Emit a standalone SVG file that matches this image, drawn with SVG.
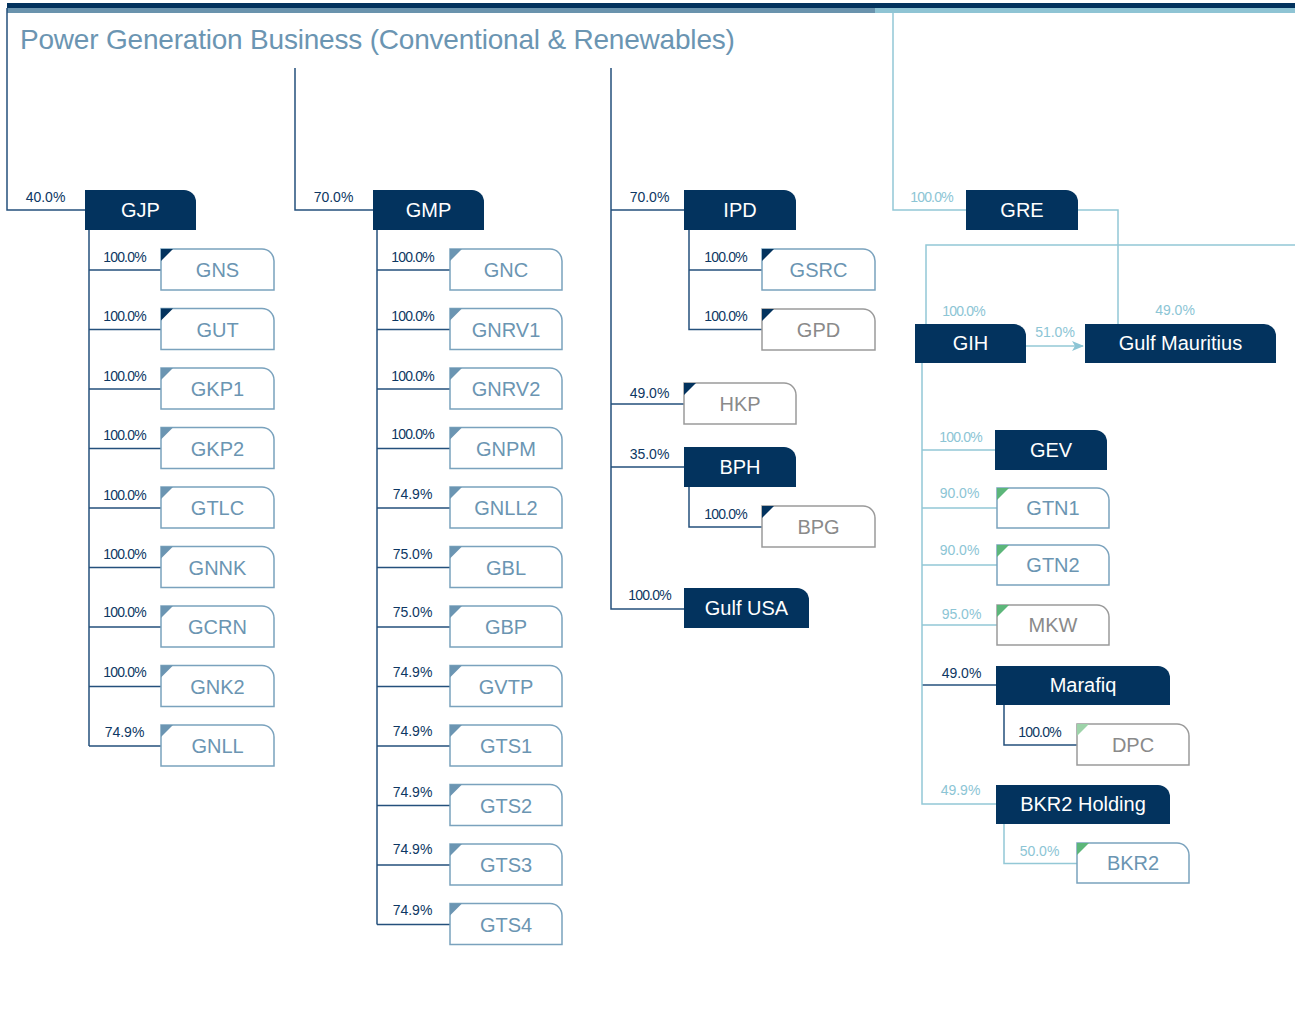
<svg xmlns="http://www.w3.org/2000/svg" width="1295" height="1026" viewBox="0 0 1295 1026">
<defs>
<style>
text{font-family:"Liberation Sans",Arial,sans-serif}
.title{font-size:28px;fill:#6b95b2;letter-spacing:-0.2px}
.pd{font-size:14px;fill:#0d3763;text-anchor:middle}
.pt{font-size:14px;fill:#8cc5d5;text-anchor:middle}
.h{letter-spacing:-0.8px}
.nd{fill:#03335e}
.nl{fill:#fff;stroke:#7aa2bd;stroke-width:1.5}
.ng{fill:#fff;stroke:#9a9a9a;stroke-width:1.5}
.td{font-size:20px;fill:#fff;text-anchor:middle}
.tl{font-size:20px;fill:#6b95b2;text-anchor:middle}
.tg{font-size:20px;fill:#8a8a8a;text-anchor:middle}
.cd{fill:none;stroke:#24507c;stroke-width:1.5}
.ct{fill:none;stroke:#93c8d6;stroke-width:1.5}
.trn{fill:#03335e}
.trs{fill:#6b95b2}
.trg{fill:#5cb67a}
.trl{fill:#9dd3a9}
</style>
<marker id="arr" viewBox="0 0 12 10" refX="11" refY="5" markerWidth="12" markerHeight="10" markerUnits="userSpaceOnUse" orient="auto">
<path d="M0,0 L12,5 L0,10 L3,5 Z" fill="#8cc5d5"/>
</marker>
</defs>
<rect width="1295" height="1026" fill="#fff"/>
<g id="header">
<rect x="7" y="3" width="1288" height="5" fill="#03335e"/>
<rect x="7" y="8" width="868" height="5" fill="#6a93ad"/>
<rect x="875" y="8" width="420" height="5" fill="#8fc4d4"/>
<text class="title" x="20" y="49">Power Generation Business (Conventional &amp; Renewables)</text>
</g>
<g id="connectors">
<path class="cd" d="M7,8 V210 H85"/>
<path class="cd" d="M295,68 V210 H373"/>
<path class="cd" d="M611,68 V609 H684 M611,210 H684 M611,404 H684 M611,467 H684"/>
<path class="cd" d="M89,230 V746 M89,270 H161 M89,329.5 H161 M89,389 H161 M89,448.5 H161 M89,508 H161 M89,567.5 H161 M89,627 H161 M89,686.5 H161 M89,746 H161"/>
<path class="cd" d="M377,230 V924.5 M377,270 H450 M377,329.5 H450 M377,389 H450 M377,448.5 H450 M377,508 H450 M377,567.5 H450 M377,627 H450 M377,686.5 H450 M377,746 H450 M377,805.5 H450 M377,865 H450 M377,924.5 H450"/>
<path class="cd" d="M689,230 V329.5 H762 M689,270 H762"/>
<path class="cd" d="M689,487 V527 H762"/>
<path class="cd" d="M922,685 H996"/>
<path class="cd" d="M1004,705 V745 H1077"/>
<path class="ct" d="M893,13 V210 H966"/>
<path class="ct" d="M1078,210 H1118 V324"/>
<path class="ct" d="M926,324 V245 H1295"/>
<path class="ct" d="M922,363 V804 H996 M922,450 H995 M922,508 H997 M922,565 H997 M922,625 H997"/>
<path class="ct" d="M1004,824 V863.5 H1077"/>
<path class="ct" d="M1026,346 H1083" marker-end="url(#arr)"/>
</g>
<g id="labels" transform="translate(0,1.5)">
<text class="pd" x="45.5" y="200">40.0%</text>
<text class="pd" x="333.5" y="200">70.0%</text>
<text class="pd" x="649.5" y="200">70.0%</text>
<text class="pt h" x="931.5" y="200">100.0%</text>
<text class="pd h" x="124.5" y="260">100.0%</text>
<text class="pd h" x="124.5" y="319.5">100.0%</text>
<text class="pd h" x="124.5" y="379">100.0%</text>
<text class="pd h" x="124.5" y="438.5">100.0%</text>
<text class="pd h" x="124.5" y="498">100.0%</text>
<text class="pd h" x="124.5" y="557.5">100.0%</text>
<text class="pd h" x="124.5" y="615">100.0%</text>
<text class="pd h" x="124.5" y="675">100.0%</text>
<text class="pd" x="124.5" y="735">74.9%</text>
<text class="pd h" x="412.5" y="260">100.0%</text>
<text class="pd h" x="412.5" y="319.5">100.0%</text>
<text class="pd h" x="412.5" y="379">100.0%</text>
<text class="pd h" x="412.5" y="437">100.0%</text>
<text class="pd" x="412.5" y="497">74.9%</text>
<text class="pd" x="412.5" y="557">75.0%</text>
<text class="pd" x="412.5" y="615">75.0%</text>
<text class="pd" x="412.5" y="675">74.9%</text>
<text class="pd" x="412.5" y="734">74.9%</text>
<text class="pd" x="412.5" y="795">74.9%</text>
<text class="pd" x="412.5" y="852">74.9%</text>
<text class="pd" x="412.5" y="913">74.9%</text>
<text class="pd h" x="725.5" y="260">100.0%</text>
<text class="pd h" x="725.5" y="319">100.0%</text>
<text class="pd" x="649.5" y="396">49.0%</text>
<text class="pd" x="649.5" y="457">35.0%</text>
<text class="pd h" x="725.5" y="517">100.0%</text>
<text class="pd h" x="649.5" y="598">100.0%</text>
<text class="pt h" x="963.5" y="314">100.0%</text>
<text class="pt" x="1055" y="335">51.0%</text>
<text class="pt" x="1175" y="313">49.0%</text>
<text class="pt h" x="960.5" y="440">100.0%</text>
<text class="pt" x="959.5" y="496">90.0%</text>
<text class="pt" x="959.5" y="553">90.0%</text>
<text class="pt" x="961.5" y="617">95.0%</text>
<text class="pd" x="961.5" y="676">49.0%</text>
<text class="pd h" x="1039.5" y="735">100.0%</text>
<text class="pt" x="960.5" y="793">49.9%</text>
<text class="pt" x="1039.5" y="854">50.0%</text>
</g>
<g id="GJP"><path class="nd" d="M85,190 H184 A12,12 0 0 1 196,202 V230 H85 Z"/><text class="td" x="140.5" y="217">GJP</text></g>
<g id="GMP"><path class="nd" d="M373,190 H472 A12,12 0 0 1 484,202 V230 H373 Z"/><text class="td" x="428.5" y="217">GMP</text></g>
<g id="IPD"><path class="nd" d="M684,190 H784 A12,12 0 0 1 796,202 V230 H684 Z"/><text class="td" x="740" y="217">IPD</text></g>
<g id="GRE"><path class="nd" d="M966,190 H1066 A12,12 0 0 1 1078,202 V230 H966 Z"/><text class="td" x="1022" y="217">GRE</text></g>
<g id="GNS"><path class="nl" d="M161,249 H262 A12,12 0 0 1 274,261 V290 H161 Z"/><path class="trn" d="M161,249 H173 L161,261 Z"/><text class="tl" x="217.5" y="277">GNS</text></g>
<g id="GUT"><path class="nl" d="M161,308.5 H262 A12,12 0 0 1 274,320.5 V349.5 H161 Z"/><path class="trn" d="M161,308.5 H173 L161,320.5 Z"/><text class="tl" x="217.5" y="336.5">GUT</text></g>
<g id="GKP1"><path class="nl" d="M161,368 H262 A12,12 0 0 1 274,380 V409 H161 Z"/><path class="trs" d="M161,368 H173 L161,380 Z"/><text class="tl" x="217.5" y="396">GKP1</text></g>
<g id="GKP2"><path class="nl" d="M161,427.5 H262 A12,12 0 0 1 274,439.5 V468.5 H161 Z"/><path class="trs" d="M161,427.5 H173 L161,439.5 Z"/><text class="tl" x="217.5" y="455.5">GKP2</text></g>
<g id="GTLC"><path class="nl" d="M161,487 H262 A12,12 0 0 1 274,499 V528 H161 Z"/><path class="trs" d="M161,487 H173 L161,499 Z"/><text class="tl" x="217.5" y="515">GTLC</text></g>
<g id="GNNK"><path class="nl" d="M161,546.5 H262 A12,12 0 0 1 274,558.5 V587.5 H161 Z"/><path class="trs" d="M161,546.5 H173 L161,558.5 Z"/><text class="tl" x="217.5" y="574.5">GNNK</text></g>
<g id="GCRN"><path class="nl" d="M161,606 H262 A12,12 0 0 1 274,618 V647 H161 Z"/><path class="trs" d="M161,606 H173 L161,618 Z"/><text class="tl" x="217.5" y="634">GCRN</text></g>
<g id="GNK2"><path class="nl" d="M161,665.5 H262 A12,12 0 0 1 274,677.5 V706.5 H161 Z"/><path class="trs" d="M161,665.5 H173 L161,677.5 Z"/><text class="tl" x="217.5" y="693.5">GNK2</text></g>
<g id="GNLL"><path class="nl" d="M161,725 H262 A12,12 0 0 1 274,737 V766 H161 Z"/><path class="trs" d="M161,725 H173 L161,737 Z"/><text class="tl" x="217.5" y="753">GNLL</text></g>
<g id="GNC"><path class="nl" d="M450,249 H550 A12,12 0 0 1 562,261 V290 H450 Z"/><path class="trs" d="M450,249 H462 L450,261 Z"/><text class="tl" x="506" y="277">GNC</text></g>
<g id="GNRV1"><path class="nl" d="M450,308.5 H550 A12,12 0 0 1 562,320.5 V349.5 H450 Z"/><path class="trs" d="M450,308.5 H462 L450,320.5 Z"/><text class="tl" x="506" y="336.5">GNRV1</text></g>
<g id="GNRV2"><path class="nl" d="M450,368 H550 A12,12 0 0 1 562,380 V409 H450 Z"/><path class="trs" d="M450,368 H462 L450,380 Z"/><text class="tl" x="506" y="396">GNRV2</text></g>
<g id="GNPM"><path class="nl" d="M450,427.5 H550 A12,12 0 0 1 562,439.5 V468.5 H450 Z"/><path class="trs" d="M450,427.5 H462 L450,439.5 Z"/><text class="tl" x="506" y="455.5">GNPM</text></g>
<g id="GNLL2"><path class="nl" d="M450,487 H550 A12,12 0 0 1 562,499 V528 H450 Z"/><path class="trs" d="M450,487 H462 L450,499 Z"/><text class="tl" x="506" y="515">GNLL2</text></g>
<g id="GBL"><path class="nl" d="M450,546.5 H550 A12,12 0 0 1 562,558.5 V587.5 H450 Z"/><path class="trs" d="M450,546.5 H462 L450,558.5 Z"/><text class="tl" x="506" y="574.5">GBL</text></g>
<g id="GBP"><path class="nl" d="M450,606 H550 A12,12 0 0 1 562,618 V647 H450 Z"/><path class="trs" d="M450,606 H462 L450,618 Z"/><text class="tl" x="506" y="634">GBP</text></g>
<g id="GVTP"><path class="nl" d="M450,665.5 H550 A12,12 0 0 1 562,677.5 V706.5 H450 Z"/><path class="trs" d="M450,665.5 H462 L450,677.5 Z"/><text class="tl" x="506" y="693.5">GVTP</text></g>
<g id="GTS1"><path class="nl" d="M450,725 H550 A12,12 0 0 1 562,737 V766 H450 Z"/><path class="trs" d="M450,725 H462 L450,737 Z"/><text class="tl" x="506" y="753">GTS1</text></g>
<g id="GTS2"><path class="nl" d="M450,784.5 H550 A12,12 0 0 1 562,796.5 V825.5 H450 Z"/><path class="trs" d="M450,784.5 H462 L450,796.5 Z"/><text class="tl" x="506" y="812.5">GTS2</text></g>
<g id="GTS3"><path class="nl" d="M450,844 H550 A12,12 0 0 1 562,856 V885 H450 Z"/><path class="trs" d="M450,844 H462 L450,856 Z"/><text class="tl" x="506" y="872">GTS3</text></g>
<g id="GTS4"><path class="nl" d="M450,903.5 H550 A12,12 0 0 1 562,915.5 V944.5 H450 Z"/><path class="trs" d="M450,903.5 H462 L450,915.5 Z"/><text class="tl" x="506" y="931.5">GTS4</text></g>
<g id="GSRC"><path class="nl" d="M762,249 H863 A12,12 0 0 1 875,261 V290 H762 Z"/><path class="trn" d="M762,249 H774 L762,261 Z"/><text class="tl" x="818.5" y="277">GSRC</text></g>
<g id="GPD"><path class="ng" d="M762,309 H863 A12,12 0 0 1 875,321 V350 H762 Z"/><path class="trn" d="M762,309 H774 L762,321 Z"/><text class="tg" x="818.5" y="337">GPD</text></g>
<g id="HKP"><path class="ng" d="M684,383 H784 A12,12 0 0 1 796,395 V424 H684 Z"/><path class="trn" d="M684,383 H696 L684,395 Z"/><text class="tg" x="740" y="411">HKP</text></g>
<g id="BPH"><path class="nd" d="M684,447 H784 A12,12 0 0 1 796,459 V487 H684 Z"/><text class="td" x="740" y="474">BPH</text></g>
<g id="BPG"><path class="ng" d="M762,506 H863 A12,12 0 0 1 875,518 V547 H762 Z"/><path class="trn" d="M762,506 H774 L762,518 Z"/><text class="tg" x="818.5" y="534">BPG</text></g>
<g id="GulfUSA"><path class="nd" d="M684,588 H797 A12,12 0 0 1 809,600 V628 H684 Z"/><text class="td" x="746.5" y="615">Gulf USA</text></g>
<g id="GIH"><path class="nd" d="M915,324 H1014 A12,12 0 0 1 1026,336 V363 H915 Z"/><text class="td" x="970.5" y="350">GIH</text></g>
<g id="GulfMauritius"><path class="nd" d="M1085,324 H1264 A12,12 0 0 1 1276,336 V363 H1085 Z"/><text class="td" x="1180.5" y="350">Gulf Mauritius</text></g>
<g id="GEV"><path class="nd" d="M995,430 H1095 A12,12 0 0 1 1107,442 V470 H995 Z"/><text class="td" x="1051" y="457">GEV</text></g>
<g id="GTN1"><path class="nl" d="M997,488 H1097 A12,12 0 0 1 1109,500 V528 H997 Z"/><path class="trg" d="M997,488 H1009 L997,500 Z"/><text class="tl" x="1053" y="515">GTN1</text></g>
<g id="GTN2"><path class="nl" d="M997,545 H1097 A12,12 0 0 1 1109,557 V585 H997 Z"/><path class="trg" d="M997,545 H1009 L997,557 Z"/><text class="tl" x="1053" y="572">GTN2</text></g>
<g id="MKW"><path class="ng" d="M997,605 H1097 A12,12 0 0 1 1109,617 V645 H997 Z"/><path class="trg" d="M997,605 H1009 L997,617 Z"/><text class="tg" x="1053" y="632">MKW</text></g>
<g id="Marafiq"><path class="nd" d="M996,666 H1158 A12,12 0 0 1 1170,678 V705 H996 Z"/><text class="td" x="1083" y="692">Marafiq</text></g>
<g id="DPC"><path class="ng" d="M1077,724 H1177 A12,12 0 0 1 1189,736 V765 H1077 Z"/><path class="trl" d="M1077,724 H1089 L1077,736 Z"/><text class="tg" x="1133" y="752">DPC</text></g>
<g id="BKR2Holding"><path class="nd" d="M996,785 H1158 A12,12 0 0 1 1170,797 V824 H996 Z"/><text class="td" x="1083" y="811">BKR2 Holding</text></g>
<g id="BKR2"><path class="nl" d="M1077,843 H1177 A12,12 0 0 1 1189,855 V883 H1077 Z"/><path class="trg" d="M1077,843 H1089 L1077,855 Z"/><text class="tl" x="1133" y="870">BKR2</text></g>
</svg>
